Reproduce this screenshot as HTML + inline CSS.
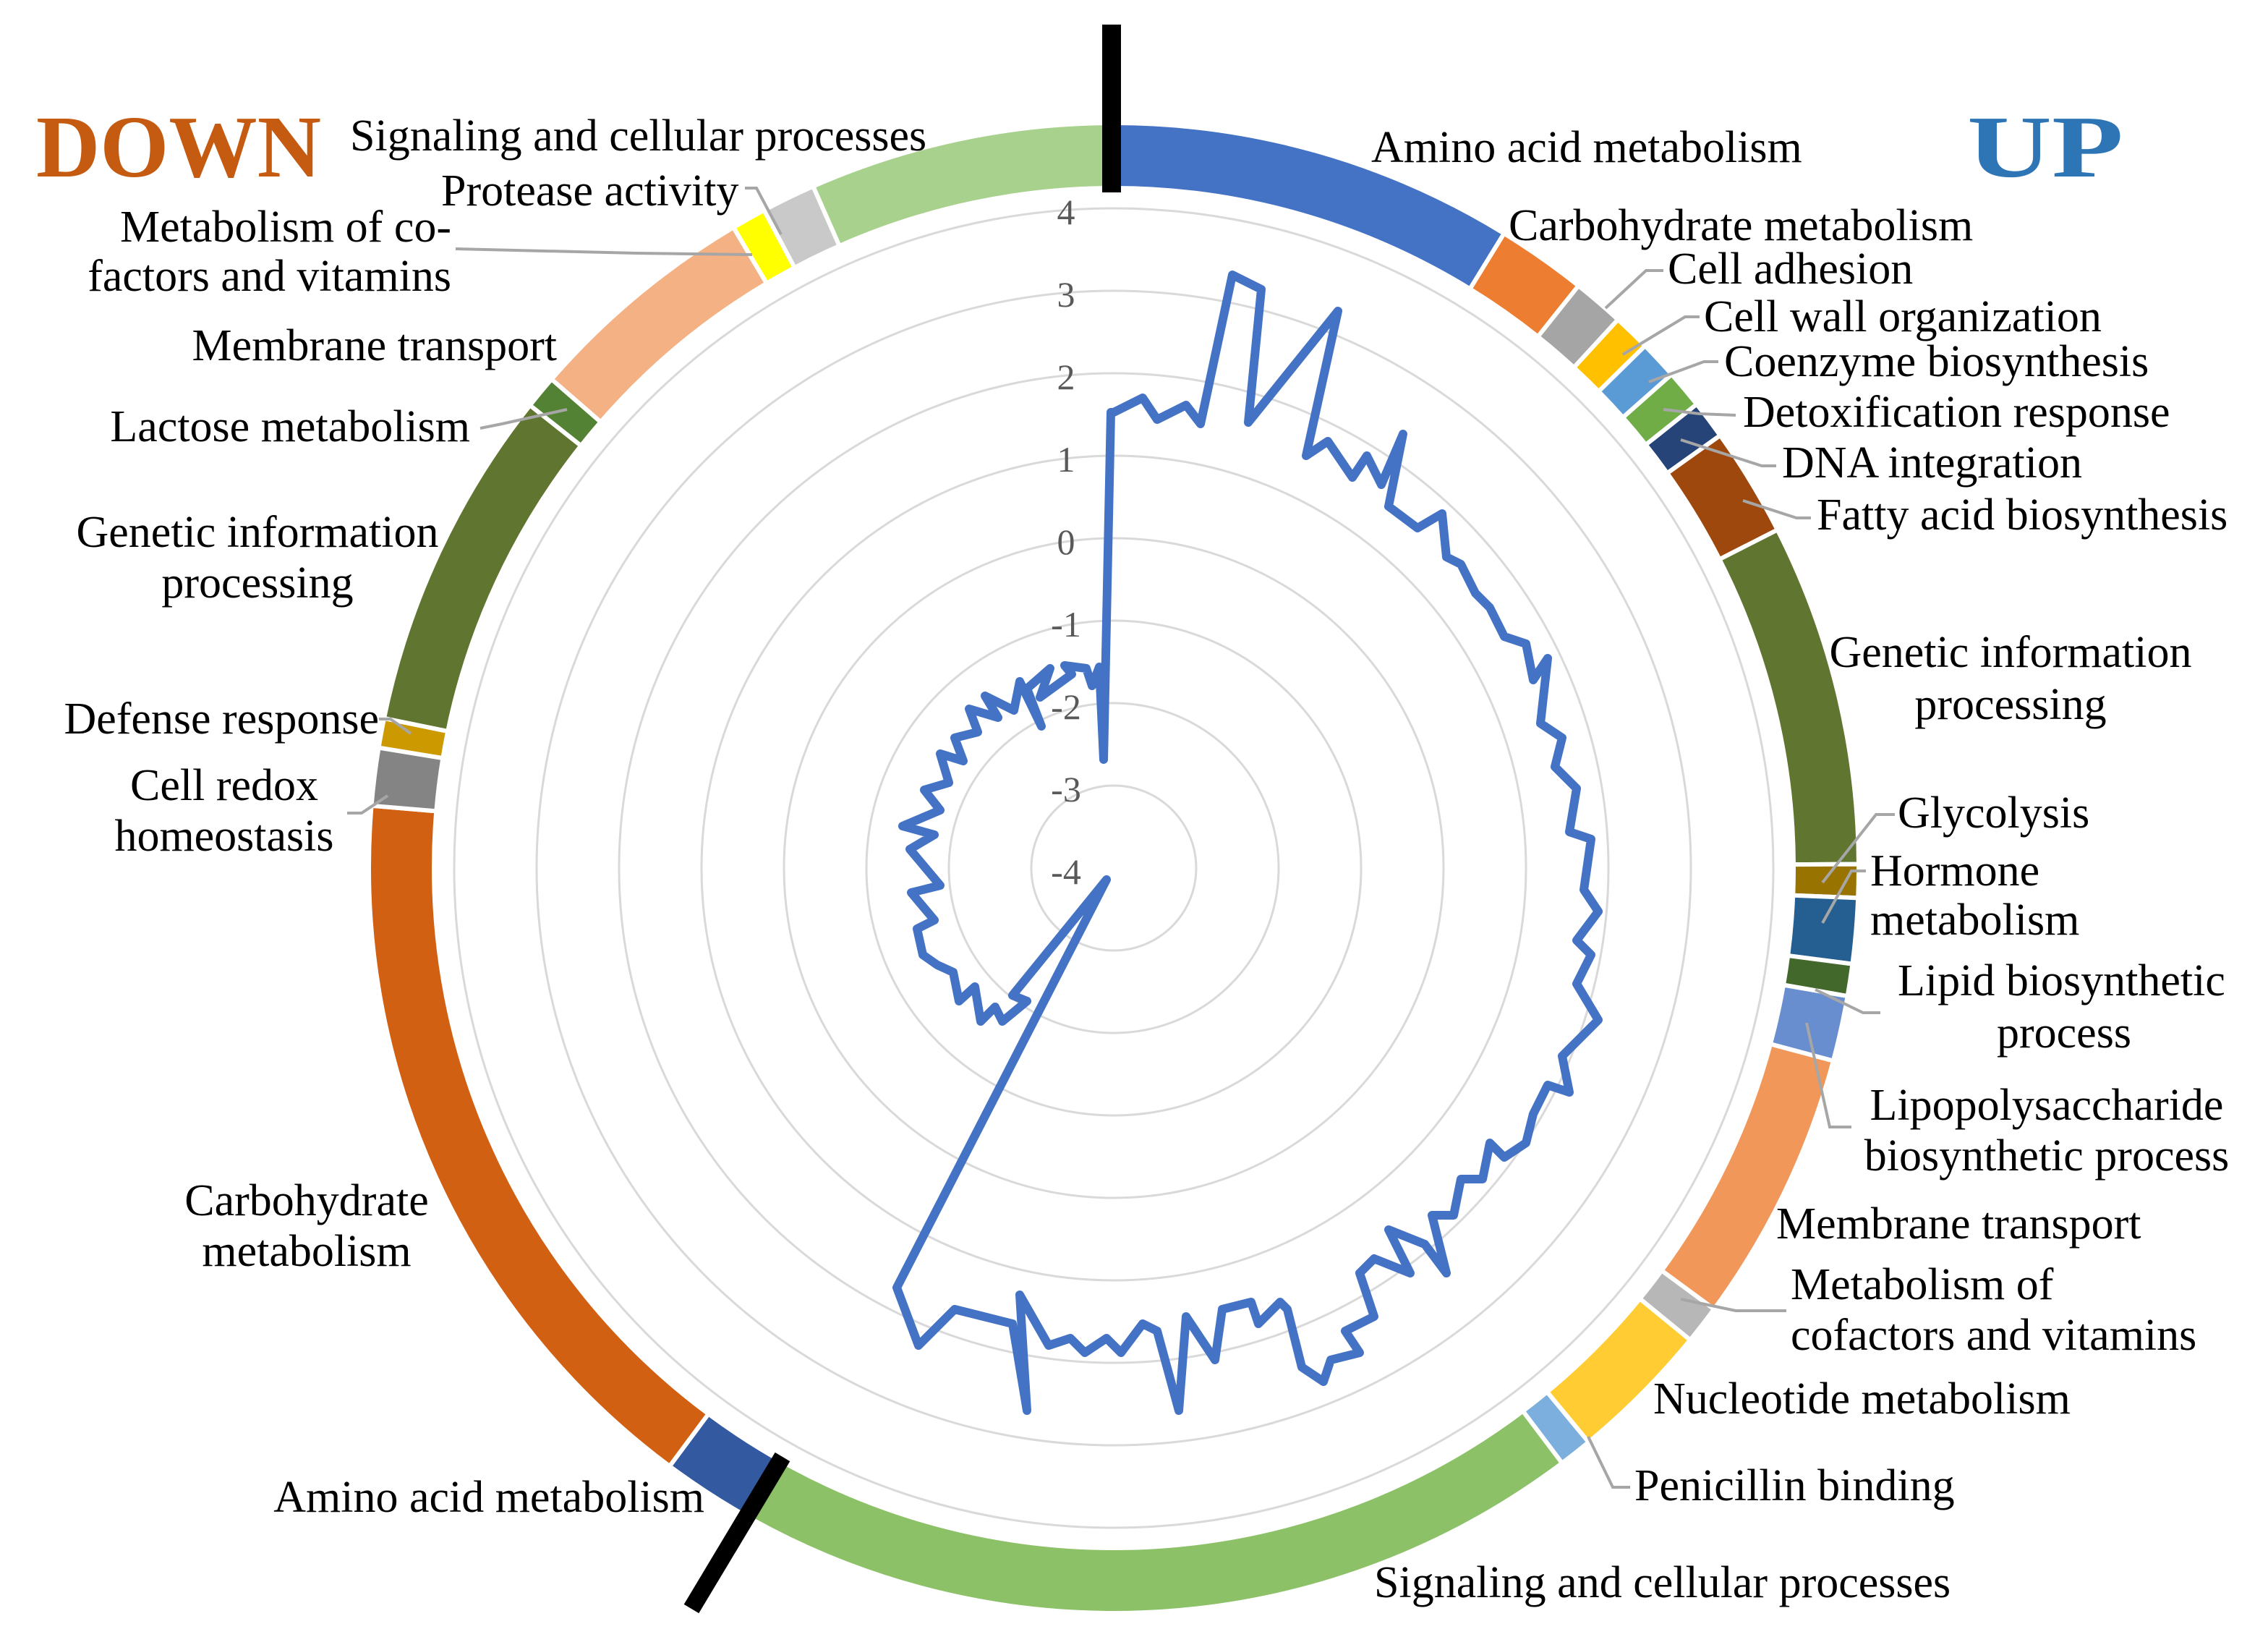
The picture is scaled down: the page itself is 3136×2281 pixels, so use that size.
<!DOCTYPE html>
<html><head><meta charset="utf-8">
<style>
html,body{margin:0;padding:0;background:#fff;}
svg{display:block;}
text{font-family:"Liberation Serif",serif;fill:#000;}
</style></head>
<body>
<svg id="s" xmlns="http://www.w3.org/2000/svg" width="3136" height="2281" viewBox="0 0 1568 1140.5">
<rect width="1568" height="1141" fill="#fff"/>
<g id="grid" fill="none" stroke="#d9d9d9" stroke-width="1.5"></g>
<g id="ring" stroke="#fff" stroke-width="3"></g>
<g id="axis" font-size="25" fill="#595959" text-anchor="middle"></g>
<polyline id="line" fill="none" stroke="#4472c4" stroke-width="6" stroke-linejoin="round" stroke-linecap="round"/>
<rect x="762" y="17" width="13" height="116" fill="#000"/>
<line x1="541" y1="1007" x2="478" y2="1112" stroke="#000" stroke-width="12"/>
<g fill="none" stroke="#a6a6a6" stroke-width="2">
<polyline points="515,130 523,130 540,162"/>
<polyline points="315,172 440,175 520,176"/>
<polyline points="332,296 347,293 392,283"/>
<polyline points="262,497 270,497 284,507"/>
<polyline points="240,562 250,562 268,550"/>
<polyline points="1150,187 1138,187 1110,213"/>
<polyline points="1175,219 1165,219 1122,245"/>
<polyline points="1188,250 1178,250 1140,264"/>
<polyline points="1200,287 1175,286 1150,283"/>
<polyline points="1228,322 1218,322 1162,304"/>
<polyline points="1252,358 1242,358 1205,346"/>
<polyline points="1310,563 1297,563 1260,610"/>
<polyline points="1290,602 1280,602 1260,638"/>
<polyline points="1300,700 1288,700 1255,684"/>
<polyline points="1249,707 1265,779 1280,779"/>
<polyline points="1235,906 1200,906 1162,898"/>
<polyline points="1127,1028 1115,1028 1098,993"/>
</g>
<g font-size="31">
<text x="25" y="122" font-size="61" font-weight="bold" textLength="197" lengthAdjust="spacingAndGlyphs" style="fill:#c55a11">DOWN</text>
<text x="1360" y="122" font-size="61" font-weight="bold" textLength="108" lengthAdjust="spacingAndGlyphs" style="fill:#2e75b6">UP</text>
<text x="242" y="104">Signaling and cellular processes</text>
<text x="305" y="142">Protease activity</text>
<text x="312" y="167" text-anchor="end">Metabolism of co-</text>
<text x="312" y="201" text-anchor="end">factors and vitamins</text>
<text x="385" y="249" text-anchor="end">Membrane transport</text>
<text x="325" y="305" text-anchor="end">Lactose metabolism</text>
<text x="178" y="378" text-anchor="middle">Genetic information</text>
<text x="178" y="413" text-anchor="middle">processing</text>
<text x="262" y="507" text-anchor="end">Defense response</text>
<text x="155" y="553" text-anchor="middle">Cell redox</text>
<text x="155" y="588" text-anchor="middle">homeostasis</text>
<text x="212" y="840" text-anchor="middle">Carbohydrate</text>
<text x="212" y="875" text-anchor="middle">metabolism</text>
<text x="487" y="1045" text-anchor="end">Amino acid metabolism</text>
<text x="948" y="112">Amino acid metabolism</text>
<text x="1043" y="166">Carbohydrate metabolism</text>
<text x="1153" y="196">Cell adhesion</text>
<text x="1178" y="229">Cell wall organization</text>
<text x="1192" y="260">Coenzyme biosynthesis</text>
<text x="1205" y="295">Detoxification response</text>
<text x="1232" y="330">DNA integration</text>
<text x="1256" y="366">Fatty acid biosynthesis</text>
<text x="1390" y="461" text-anchor="middle">Genetic information</text>
<text x="1390" y="497" text-anchor="middle">processing</text>
<text x="1312" y="572">Glycolysis</text>
<text x="1293" y="612">Hormone</text>
<text x="1293" y="646">metabolism</text>
<text x="1312" y="688">Lipid biosynthetic</text>
<text x="1427" y="724" text-anchor="middle">process</text>
<text x="1415" y="774" text-anchor="middle">Lipopolysaccharide</text>
<text x="1415" y="809" text-anchor="middle">biosynthetic process</text>
<text x="1228" y="856">Membrane transport</text>
<text x="1238" y="898">Metabolism of</text>
<text x="1238" y="933">cofactors and vitamins</text>
<text x="1143" y="977">Nucleotide metabolism</text>
<text x="1130" y="1037">Penicillin binding</text>
<text x="950" y="1104">Signaling and cellular processes</text>
</g>
<script>
(function(){
var NS="http://www.w3.org/2000/svg",cx=770,cy=600;
function P(r,a){a=a*Math.PI/180;return [cx+r*Math.sin(a),cy-r*Math.cos(a)];}
var g=document.getElementById('grid');
for(var k=1;k<=8;k++){var c=document.createElementNS(NS,'circle');c.setAttribute('cx',cx);c.setAttribute('cy',cy);c.setAttribute('r',57*k);g.appendChild(c);}
var ax=document.getElementById('axis');
for(var k=0;k<9;k++){var t=document.createElementNS(NS,'text');t.setAttribute('x',737);t.setAttribute('y',155+57*k);t.textContent=String(4-k);t.style.fill='#595959';ax.appendChild(t);}
var segs=[[0,31.6,'#4472c4'],[31.6,38.6,'#ed7d31'],[38.6,42.6,'#a5a5a5'],[42.6,45.5,'#ffc000'],[45.5,48.5,'#5b9bd5'],[48.5,51.5,'#70ad47'],[51.5,54.5,'#264478'],[54.5,63,'#9e480e'],[63,89.7,'#5f7530'],[89.7,92.3,'#997300'],[92.3,97.4,'#255e91'],[97.4,99.9,'#43682b'],[99.9,105,'#698ed0'],[105,126.3,'#f1975a'],[126.3,129.3,'#b7b7b7'],[129.3,140.4,'#ffcd33'],[140.4,143,'#7cafdd'],[143,209,'#8cc168'],
[209,216.6,'#335aa1'],[216.6,274.8,'#d26012'],[274.8,279.3,'#848484'],[279.3,281.6,'#cc9a00'],[281.6,308.4,'#5f7530'],[308.4,311,'#548235'],[311,329.3,'#f4b183'],[329.3,332,'#ffff00'],[332,336.2,'#c9c9c9'],[336.2,360,'#a9d18e']];
var rg=document.getElementById('ring'),ri=470,ro=515;
segs.forEach(function(s){var a=P(ro,s[0]),b=P(ro,s[1]),c=P(ri,s[1]),d=P(ri,s[0]);var l=(s[1]-s[0])>180?1:0;
var p=document.createElementNS(NS,'path');p.setAttribute('d','M'+a+' A'+ro+','+ro+' 0 '+l+' 1 '+b+' L'+c+' A'+ri+','+ri+' 0 '+l+' 0 '+d+'Z');p.setAttribute('fill',s[2]);rg.appendChild(p);});
})();
</script>
<script>
document.getElementById('line').setAttribute('points',"768,285 770,285 790,275 800,290 820,280 830,293 852,190 872,200 863,292 925,215 903,315 918,305 935,330 945,315 955,335 970,300 960,350 980,365 997,355 1000,385 1010,390 1020,410 1030,420 1040,440 1055,445 1060,470 1070,455 1065,500 1080,510 1075,530 1090,545 1085,575 1100,580 1095,615 1105,630 1090,650 1100,660 1090,680 1105,705 1080,730 1085,755 1070,750 1060,770 1055,790 1040,800 1030,790 1025,815 1010,815 1005,840 990,840 1000,880 985,860 960,850 975,880 950,870 940,880 950,910 930,920 940,935 920,940 915,955 900,945 890,905 885,900 870,915 865,900 845,905 840,940 820,910 815,975 800,920 790,915 775,935 765,925 750,935 740,925 725,930 705,895 710,975 700,915 680,910 660,905 635,930 620,890 765,608 700,688 710,692 693,706 688,696 678,706 674,682 663,692 659,672 648,667 638,660 634,642 646,636 630,617 650,612 629,587 646,577 624,571 650,560 639,546 656,541 650,521 666,526 660,510 676,506 670,490 690,496 681,481 701,491 705,471 720,502 710,476 726,462 719,482 741,466 736,460 751,462 755,474 760,461 763,525 768,285");
</script>
</svg>
</body></html>
